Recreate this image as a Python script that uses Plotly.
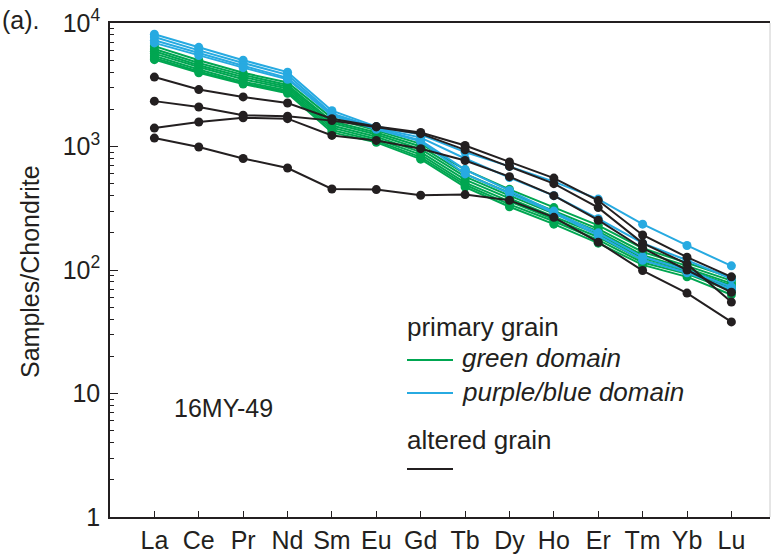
import plotly.graph_objects as go

elements = ["La", "Ce", "Pr", "Nd", "Sm", "Eu", "Gd", "Tb", "Dy", "Ho", "Er", "Tm", "Yb", "Lu"]

# primary grain - green domain
green_1 = [6500, 5000, 3950, 3300, 1700, 1350, 1050, 650, 450, 320, 230, 150, 115, 87]
green_2 = [6150, 4750, 3800, 3150, 1600, 1300, 1000, 600, 420, 300, 215, 140, 108, 82]
green_3 = [5900, 4550, 3650, 3050, 1550, 1250, 950, 570, 400, 285, 205, 132, 103, 78]
green_4 = [5650, 4400, 3500, 2950, 1480, 1200, 900, 540, 380, 270, 195, 125, 100, 75]
green_5 = [5400, 4200, 3350, 2850, 1420, 1150, 860, 510, 360, 260, 185, 120, 97, 72]
green_6 = [5200, 4050, 3250, 2780, 1360, 1110, 820, 490, 340, 248, 175, 115, 93, 68]
green_7 = [5050, 3950, 3200, 2700, 1300, 1080, 790, 470, 325, 235, 165, 110, 88, 63]

# primary grain - purple/blue domain
blue_1 = [8100, 6350, 5000, 4000, 1950, 1450, 1250, 900, 690, 520, 375, 235, 158, 108]
blue_2 = [7700, 6000, 4750, 3800, 1850, 1420, 1180, 800, 560, 400, 260, 165, 120, 85]
blue_3 = [7250, 5700, 4500, 3600, 1800, 1400, 1120, 650, 440, 300, 200, 128, 100, 73]
blue_4 = [6900, 5450, 4350, 3500, 1780, 1380, 1100, 600, 420, 290, 190, 120, 95, 70]

# altered grain
altered_1 = [3650, 2890, 2520, 2250, 1680, 1450, 1300, 1020, 750, 555, 365, 192, 127, 88]
altered_2 = [2330, 2090, 1790, 1760, 1620, 1440, 1270, 940, 690, 500, 320, 165, 112, 55]
altered_3 = [1410, 1580, 1710, 1680, 1230, 1120, 960, 770, 570, 400, 253, 150, 100, 66]
altered_4 = [1170, 990, 800, 670, 453, 448, 403, 408, 367, 267, 168, 99, 65, 38]

y_tickvals = [1, 10, 100, 1000, 10000]
y_ticktext = ["1", "10", "10<sup>2</sup>", "10<sup>3</sup>", "10<sup>4</sup>"]

GREEN = "#00a651"
BLUE = "#27aae1"
BLACK = "#231f20"
TEXT = "#231f20"
FONT = "Liberation Sans, Arial, sans-serif"

fig = go.Figure()

def add_series(vals, color):
    fig.add_trace(go.Scatter(
        x=elements, y=vals, mode="lines+markers",
        line=dict(color=color, width=2),
        marker=dict(color=color, size=9),
        showlegend=False, hoverinfo="skip"))

for s in [green_1, green_2, green_3, green_4, green_5, green_6, green_7]:
    add_series(s, GREEN)
for s in [blue_1, blue_2, blue_3, blue_4]:
    add_series(s, BLUE)
for s in [altered_1, altered_2, altered_3, altered_4]:
    add_series(s, BLACK)

minor_vals = [k * 10 ** d for d in range(4) for k in range(2, 10)]

W, H = 772, 557
L, R, T, B = 110, 2, 23, 40
pw, ph = W - L - R, H - T - B

def px(x):
    return (x - L) / pw

def py(y):
    return (H - B - y) / ph

fig.update_layout(
    width=W, height=H,
    margin=dict(l=L, r=R, t=T, b=B),
    paper_bgcolor="white", plot_bgcolor="white",
    font=dict(family=FONT, size=24, color=TEXT),
    xaxis=dict(
        type="category", categoryorder="array", categoryarray=elements,
        range=[-1, 13.87],
        showline=True, linecolor=BLACK, linewidth=1.5, mirror=True,
        ticks="inside", ticklen=6, tickcolor=BLACK, tickwidth=1,
        showgrid=False, zeroline=False,
        tickfont=dict(size=25, color=TEXT),
    ),
    yaxis=dict(
        type="log", range=[0, 4],
        tickmode="array", tickvals=y_tickvals, ticktext=y_ticktext,
        showline=True, linecolor=BLACK, linewidth=1.5,
        ticks="inside", ticklen=8, tickcolor=BLACK, tickwidth=1,
        minor=dict(ticks="inside", ticklen=4, tickcolor=BLACK, tickwidth=1,
                   tickmode="array", tickvals=minor_vals, showgrid=False),
        showgrid=False, zeroline=False,
        tickfont=dict(size=25, color=TEXT),
        ticklabelstandoff=3,
    ),
)

ann = [
    dict(text="(a).", x=px(0), y=py(20), xanchor="left", yanchor="middle", size=25),
    dict(text="16MY-49", x=px(172), y=py(408), xanchor="left", yanchor="middle", size=25),
    dict(text="primary grain", x=px(405), y=py(327), xanchor="left", yanchor="middle", size=26),
    dict(text="<i>green domain</i>", x=px(460), y=py(358), xanchor="left", yanchor="middle", size=26),
    dict(text="<i>purple/blue domain</i>", x=px(460), y=py(392), xanchor="left", yanchor="middle", size=26),
    dict(text="altered grain", x=px(405), y=py(440), xanchor="left", yanchor="middle", size=26),
    dict(text="Samples/Chondrite", x=px(30), y=py(272), xanchor="center", yanchor="middle", size=25, angle=-90),
]
for a in ann:
    fig.add_annotation(
        text=a["text"], x=a["x"], y=a["y"], xref="paper", yref="paper",
        xanchor=a["xanchor"], yanchor=a["yanchor"], showarrow=False,
        textangle=a.get("angle", 0),
        font=dict(family=FONT, size=a["size"], color=TEXT))

for yy, col in [(360, GREEN), (393, BLUE), (469, BLACK)]:
    fig.add_shape(type="line", xref="paper", yref="paper",
                  x0=px(407), x1=px(453), y0=py(yy), y1=py(yy),
                  line=dict(color=col, width=2))

# faint right border
fig.add_shape(type="line", xref="paper", yref="paper", x0=1, x1=1, y0=0, y1=1,
              line=dict(color="#cccccc", width=1))

fig.write_html("out.html")
